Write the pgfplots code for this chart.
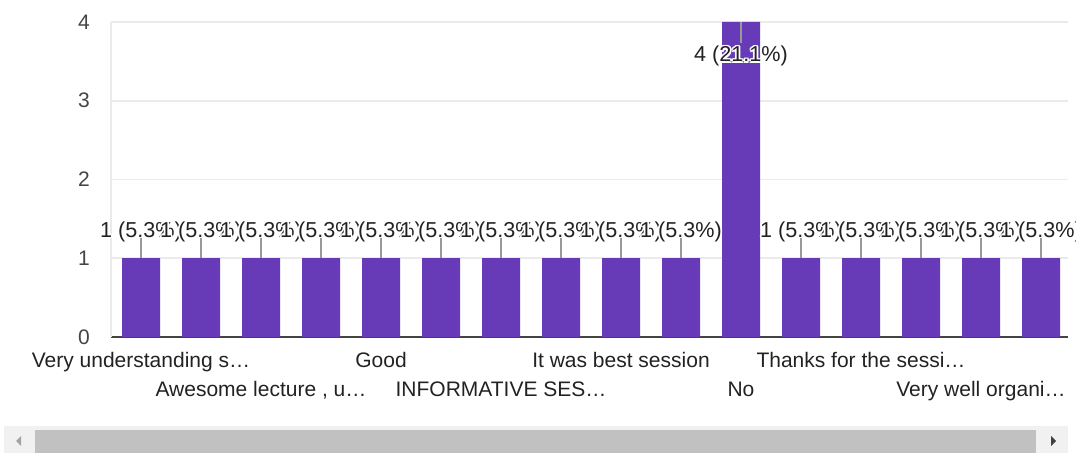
\documentclass[border=0pt]{standalone}
\usepackage{pgfplots}
\pgfplotsset{compat=1.18}
\usepackage{pgfplotstable}
\usepackage{fontspec}
\setmainfont{Liberation Sans}
\definecolor{barc}{HTML}{673AB7}
\definecolor{gridc}{HTML}{EBEBEB}
\definecolor{txt}{HTML}{222222}
\definecolor{tickc}{HTML}{444444}
\definecolor{stemc}{HTML}{999999}
\definecolor{sbbg}{HTML}{F1F1F1}
\definecolor{sbthumb}{HTML}{C1C1C1}
\definecolor{sbarrow}{HTML}{A3A3A3}
\newlength\hl \setlength\hl{1.3bp}
\newlength\hd \setlength\hd{0.9bp}
\newcommand\halo[1]{\leavevmode
 \rlap{\kern\hl\textcolor{white}{#1}}%
 \rlap{\kern-\hl\textcolor{white}{#1}}%
 \rlap{\raisebox{\hl}{\textcolor{white}{#1}}}%
 \rlap{\raisebox{-\hl}{\textcolor{white}{#1}}}%
 \rlap{\kern\hd\raisebox{\hd}{\textcolor{white}{#1}}}%
 \rlap{\kern-\hd\raisebox{\hd}{\textcolor{white}{#1}}}%
 \rlap{\kern\hd\raisebox{-\hd}{\textcolor{white}{#1}}}%
 \rlap{\kern-\hd\raisebox{-\hd}{\textcolor{white}{#1}}}%
 \textcolor{txt}{#1}}
\newcommand\lfont{\fontsize{15.75bp}{19bp}\selectfont}
\newcommand\afont{\fontsize{16.2bp}{19bp}\selectfont}
\pgfplotstableread{
x y ep em
0 1 0.254 0
1 1 0.254 0
2 1 0.254 0
3 1 0.254 0
4 1 0.254 0
5 1 0.254 0
6 1 0.254 0
7 1 0.254 0
8 1 0.254 0
9 1 0.254 0
10 4 0 0.267
11 1 0.254 0
12 1 0.254 0
13 1 0.254 0
14 1 0.254 0
15 1 0.254 0
}\datatab
\begin{document}
\begin{tikzpicture}
\path[use as bounding box] (0,0) rectangle (807bp,339.75bp);
\begin{scope}[x=0.75bp,y=0.75bp]
% scrollbar
\fill[sbbg] (4,0) rectangle (1068,27);
\fill[sbthumb] (35,0) rectangle (1036,23);
\fill[sbarrow] (16,12) -- (21,17) -- (21,7) -- cycle;
\fill[black!75] (1056,12) -- (1051,17) -- (1051,7) -- cycle;
\end{scope}
\begin{axis}[
  at={(83.25bp,87bp)}, anchor=south west,
  scale only axis, width=717.75bp, height=236.25bp,
  xmin=-0.5, xmax=15.45, ymin=0, ymax=4,
  axis lines*=left,
  x axis line style={draw=tickc, line width=1.3bp},
  y axis line style={draw=gridc, line width=1.2bp},
  ytick={0,1,2,3,4},
  ymajorgrids, grid style={draw=gridc, line width=1.2bp},
  major tick length=0pt,
  /pgf/number format/assume math mode=true,
  yticklabel style={font=\lfont, text=tickc, anchor=east, inner sep=0pt, xshift=-15.75bp},
  xtick={0,4,8,12},
  xticklabels={Very understanding s…, Good, It was best session, Thanks for the sessi…},
  xticklabel style={font=\lfont, text=txt, anchor=base, inner sep=0pt, yshift=-23.25bp},
  extra x ticks={2,6,10,14},
  extra x tick labels={{Awesome lecture , u…}, INFORMATIVE SES…, No, Very well organi…},
  extra x tick style={xticklabel style={yshift=-21bp}},
  clip=false,
]
\addplot[ybar, bar width=28.5bp, fill=barc, draw=none] table[x=x, y=y] {\datatab};
\addplot[draw=none, no markers,
  error bars/.cd, y dir=both, y explicit, error mark=none,
  error bar style={draw=stemc, line width=1.1bp}]
  table[x=x, y=y, y error plus=ep, y error minus=em] {\datatab};
\addplot[draw=none, mark=none,
  x filter/.expression={x==10 ? nan : x},
  nodes near coords={\halo{1 (5.3\%)}},
  every node near coord/.append style={anchor=base, inner sep=0pt, yshift=15.75bp, font=\afont}]
  table[x=x, y=y] {\datatab};
\addplot[draw=none, mark=none,
  x filter/.expression={x==10 ? x : nan},
  nodes near coords={\halo{4 (21.1\%)}},
  every node near coord/.append style={anchor=base, inner sep=0pt, yshift=-30bp, font=\afont}]
  table[x=x, y=y] {\datatab};
\end{axis}
\end{tikzpicture}
\end{document}
